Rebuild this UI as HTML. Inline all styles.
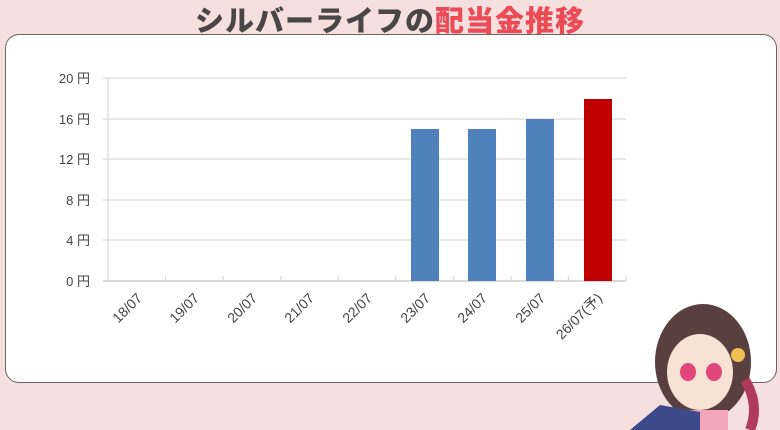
<!DOCTYPE html>
<html><head><meta charset="utf-8"><style>
html,body{margin:0;padding:0;}
body{width:780px;height:430px;background:#f6e0df;position:relative;overflow:hidden;font-family:"Liberation Sans","Noto Sans CJK JP",sans-serif;}
.title{position:absolute;left:0;width:780px;top:-2px;text-align:center;font-family:"Noto Sans CJK JP",sans-serif;font-weight:900;font-size:29px;color:#4a4547;letter-spacing:1px;}
.title span{color:#ec4a55;}
.card{position:absolute;left:5px;top:34px;width:770px;height:347px;background:#fff;border:1.5px solid #6b6365;border-radius:14px;}
</style></head><body>
<div class="title">シルバーライフの<span>配当金推移</span></div>
<div class="card"></div>
<svg width="780" height="430" style="position:absolute;left:0;top:0">
<g stroke="#d9d9d9" stroke-width="1.2">
<line x1="103" y1="78" x2="626" y2="78"/>
<line x1="103" y1="119" x2="626" y2="119"/>
<line x1="103" y1="159" x2="626" y2="159"/>
<line x1="103" y1="200" x2="626" y2="200"/>
<line x1="103" y1="240" x2="626" y2="240"/>
<line x1="103" y1="281" x2="626" y2="281" stroke-width="2"/>
<line x1="108" y1="78" x2="108" y2="281"/>
<line x1="165.6" y1="276" x2="165.6" y2="281"/>
<line x1="223.1" y1="276" x2="223.1" y2="281"/>
<line x1="280.7" y1="276" x2="280.7" y2="281"/>
<line x1="338.2" y1="276" x2="338.2" y2="281"/>
<line x1="395.8" y1="276" x2="395.8" y2="281"/>
<line x1="453.3" y1="276" x2="453.3" y2="281"/>
<line x1="510.9" y1="276" x2="510.9" y2="281"/>
<line x1="568.4" y1="276" x2="568.4" y2="281"/>
<line x1="626" y1="276" x2="626" y2="281"/>
</g>
<rect x="411" y="129" width="28" height="152" fill="#4f81bd"/>
<rect x="468" y="129" width="28" height="152" fill="#4f81bd"/>
<rect x="526" y="119" width="28" height="162" fill="#4f81bd"/>
<rect x="584" y="99" width="28" height="182" fill="#c00000"/>
<g font-size="13" fill="#444" text-anchor="end" font-family="Liberation Sans, Noto Sans CJK JP, sans-serif">
<text x="90" y="83">20 円</text>
<text x="90" y="124">16 円</text>
<text x="90" y="164">12 円</text>
<text x="90" y="205">8 円</text>
<text x="90" y="245">4 円</text>
<text x="90" y="286">0 円</text>
</g>
<g font-size="14" fill="#444" text-anchor="end" font-family="Liberation Sans, Noto Sans CJK JP, sans-serif">
<text transform="translate(143,299) rotate(-45)">18/07</text>
<text transform="translate(200,299) rotate(-45)">19/07</text>
<text transform="translate(258,299) rotate(-45)">20/07</text>
<text transform="translate(315,299) rotate(-45)">21/07</text>
<text transform="translate(373,299) rotate(-45)">22/07</text>
<text transform="translate(431,299) rotate(-45)">23/07</text>
<text transform="translate(488,299) rotate(-45)">24/07</text>
<text transform="translate(546,299) rotate(-45)">25/07</text>
<text transform="translate(603,299) rotate(-45)">26/07(予)</text>
</g>
<g>
<ellipse cx="703" cy="362" rx="48" ry="58" fill="#5a3f3f"/>
<ellipse cx="700" cy="372" rx="33" ry="38" fill="#f8e2d6"/>
<ellipse cx="688" cy="372" rx="8" ry="9" fill="#e0467a"/>
<ellipse cx="714" cy="372" rx="8" ry="9" fill="#e0467a"/>
<ellipse cx="738" cy="355" rx="7" ry="7" fill="#f0c050"/>
<rect x="688" y="410" width="40" height="20" fill="#f2a6b8"/>
<path d="M630 430 L660 405 L700 412 L700 430 Z" fill="#3c4a8a"/>
<path d="M745 380 Q760 405 750 430" stroke="#b03a5a" stroke-width="10" fill="none"/>
</g>
</svg>
</body></html>
